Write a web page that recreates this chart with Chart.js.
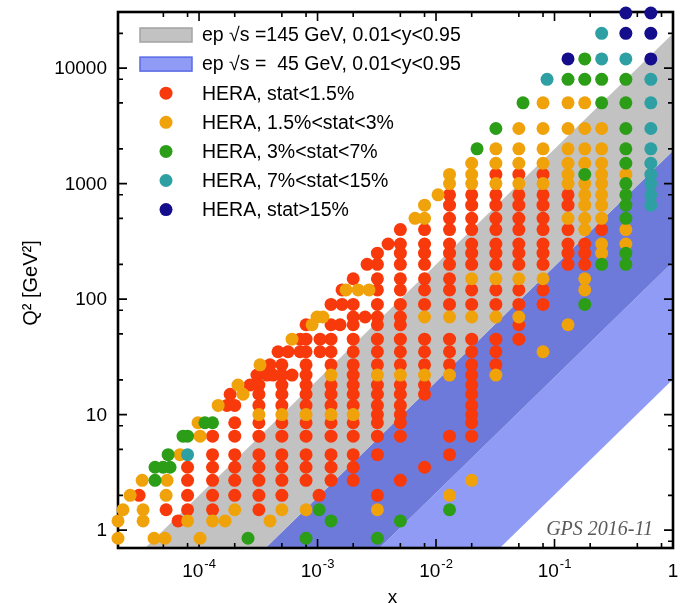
<!DOCTYPE html>
<html>
<head>
<meta charset="utf-8">
<script src="https://cdn.jsdelivr.net/npm/chart.js@4.4.1/dist/chart.umd.min.js"></script>
<style>
  html, body { margin: 0; padding: 0; background: #fff; }
  #wrap { width: 689px; height: 603px; }
</style>
</head>
<body>
<div id="wrap"><canvas id="chart" width="689" height="603"></canvas></div>
<script>
// axis ranges and ticks
const xRange = [2.07e-5, 1];
const yRange = [0.713, 30600];
const xDecades = [1e-4, 1e-3, 1e-2, 1e-1, 1];
const xDecadeLabels = [['10', '-4'], ['10', '-3'], ['10', '-2'], ['10', '-1'], ['1', '']];
const yDecades = [1, 10, 100, 1000, 10000];
const yDecadeLabels = ['1', '10', '100', '1000', '10000'];
const minorSteps = [2, 5, 8];

// band edges: Q2 at the two ends of bandX
const bandX = [1e-6, 10];
const grey145Top = [0.019975, 199750];   // y = 0.95, sqrt(s) = 145 GeV
const blue45Top = [0.0019238, 19238];    // y = 0.95, sqrt(s) = 45 GeV
const grey145Bottom = [0.00021025, 2102.5]; // y = 0.01, sqrt(s) = 145 GeV
const blue45Bottom = [0.00002025, 202.5];   // y = 0.01, sqrt(s) = 45 GeV

// HERA points: [x, [Q2 values]]
const statBelow15 = [
  [8e-5, [3.5, 2.7, 2, 1.5]],
  [1.3e-4, [6.5, 4.5, 3.5, 2.7, 2, 1.5]],
  [2e-4, [12, 8.5, 6.5, 4.5, 3.5, 2.7, 2]],
  [3.2e-4, [18, 15, 12, 8.5, 6.5, 4.5, 3.5, 2.7, 2, 1.5]],
  [5e-4, [27, 22, 18, 15, 12, 8.5, 6.5, 4.5, 3.5, 2.7, 2]],
  [8e-4, [60, 45, 35, 27, 22, 18, 15, 12, 8.5, 6.5, 4.5, 3.5, 2.7]],
  [1.3e-3, [90, 60, 45, 35, 27, 18, 15, 12, 8.5, 6.5, 4.5, 3.5, 2.7]],
  [2e-3, [150, 90, 70, 60, 45, 35, 27, 22, 18, 15, 12, 8.5, 6.5, 4.5, 3.5, 2.7]],
  [3.2e-3, [250, 200, 150, 120, 90, 70, 60, 45, 35, 27, 18, 15, 12, 10, 8.5, 6.5, 4.5, 2]],
  [5e-3, [400, 300, 250, 200, 150, 120, 90, 70, 60, 45, 35, 27, 18, 15, 12, 10, 8.5, 6.5, 2.7]],
  [8e-3, [400, 300, 250, 200, 150, 120, 90, 45, 35, 27, 18, 15, 3.5]],
  [0.013, [800, 650, 500, 400, 300, 250, 200, 150, 120, 90, 45, 35, 27, 6.5, 4.5]],
  [0.02, [800, 650, 500, 400, 300, 250, 200, 120, 90, 45, 35, 27, 22, 18, 15, 12, 10, 8.5, 6.5]],
  [0.032, [1200, 800, 650, 500, 400, 300, 250, 200, 120, 90, 45, 35, 27]],
  [0.05, [1200, 800, 650, 500, 400, 300, 250, 200, 120, 90, 60, 45]],
  [0.08, [1200, 800, 650, 500, 400, 300, 250, 200, 120, 90]],
  [0.13, [800, 650, 400, 300, 250, 200]],
  [0.18, [300, 250, 200]],
  [0.25, [400]],
  // along the high-y edge
  [3.12e-5, [2]], [5.27e-5, [1.5]], [6.65e-5, [1.2]], [1.72e-4, [12]], [1.83e-4, [15]],
  [2.69e-4, [18]], [3.08e-4, [22]], [3.75e-4, [22]], [4.21e-4, [22]], [6.09e-4, [22]],
  [3.97e-4, [27]], [4.64e-4, [35]], [5.64e-4, [35]], [7.12e-4, [35, 45]], [1.05e-3, [35, 45]],
  [1.55e-3, [60]], [2.52e-3, [70]], [1.61e-3, [90, 120]], [2.62e-3, [200]], [3.94e-3, [300]],
  [1.03e-3, [2]]
];

const stat15to3 = [
  [8e-5, [1.2]], [1.3e-4, [1.2]], [2e-4, [1.5]], [3.2e-4, [10]], [5e-4, [10, 1.5]],
  [8e-4, [10, 1.5]], [1.3e-3, [22, 10]], [2e-3, [10]], [3.2e-3, [22, 1.5]], [5e-3, [22]],
  [8e-3, [650, 500, 70, 22]],
  [0.013, [1200, 1000, 70, 22, 2]],
  [0.02, [1500, 1200, 1000, 150, 70, 2.7]],
  [0.032, [2000, 1500, 1000, 150, 70, 22]],
  [0.05, [3000, 2000, 1500, 1000, 150, 70]],
  [0.08, [5000, 3000, 2000, 1500, 1000, 150, 35]],
  [0.13, [5000, 3000, 2000, 1500, 1200, 1000, 500, 60]],
  [0.18, [5000, 3000, 2000, 1500, 1000, 800, 650, 500, 400, 150, 120]],
  [0.25, [3000, 2000, 1500, 1200, 1000, 800, 650, 500, 300, 250]],
  [0.4, [1200, 400, 300]],
  [2.07e-5, [0.85, 1.2]], [2.28e-5, [1.5]], [2.62e-5, [2]], [3.31e-5, [2.7]], [3.37e-5, [1.5, 1.2]],
  [4.17e-5, [0.85]], [5.16e-5, [0.85]], [5.37e-5, [2.7]], [5.27e-5, [2]], [6.91e-5, [4.5]],
  [1.02e-4, [6.5, 0.85]], [9.8e-5, [8.5]], [1.66e-4, [1.2]], [3.97e-4, [1.2]], [1.45e-4, [12]],
  [2.35e-4, [15]], [2.13e-4, [18]], [3.27e-4, [27]], [6.09e-4, [45]], [8.99e-4, [60]],
  [9.91e-4, [70]], [1.11e-3, [70]], [1.74e-3, [120]], [2.2e-3, [120]], [2.72e-3, [120]],
  [6.65e-3, [500]], [1.04e-2, [800]]
];

const stat3to7 = [
  [8e-5, [6.5]], [1.3e-4, [8.5]], [8e-4, [0.85]], [1.3e-3, [1.2]], [3.2e-3, [0.85]],
  [5e-3, [1.2]], [0.013, [1.5]], [0.032, [3000]], [0.13, [8000]],
  [0.18, [12000, 8000, 1200, 90]],
  [0.25, [8000, 5000, 200]],
  [0.4, [8000, 5000, 3000, 2000, 1500, 1000, 800, 650, 500, 250, 200]],
  [4.25e-5, [2.7, 3.5]], [4.97e-5, [3.5]], [5.69e-5, [3.5]], [5.48e-5, [4.5]], [7.33e-5, [6.5]],
  [1.12e-4, [8.5]], [2.59e-4, [0.85]], [1.03e-3, [1.5]], [2.22e-2, [2000]], [5.42e-2, [5000]]
];

const stat7to15 = [
  [8e-5, [4.5]], [8.65e-2, [8000]], [0.25, [20000, 12000]], [0.4, [12000]],
  [0.65, [8000, 5000, 3000, 2000, 1500, 1200, 1000, 800, 650]]
];

const statAbove15 = [
  [0.13, [12000]], [0.4, [30000, 20000]], [0.65, [30000, 20000, 12000]]
];

const COLORS = {
  red: '#f7390b',
  orange: '#f0a20b',
  green: '#2b9d16',
  teal: '#2ea0a3',
  navy: '#140e8c',
  grey: '#c2c2c2',
  overlap: '#6d7ad9',
  light: '#8f9bf5'
};
const FONT = '"Liberation Sans", Arial, Helvetica, sans-serif';

const toPoints = rows => rows.flatMap(([x, qs]) => qs.map(q => ({ x, y: q })));
const bandLine = (q, color, fill) => ({
  type: 'line',
  data: bandX.map((x, i) => ({ x, y: q[i] })),
  borderWidth: 0,
  pointRadius: 0,
  tension: 0,
  backgroundColor: color,
  fill,
  order: 20
});
const pointSet = (label, rows, color, order) => ({
  type: 'scatter',
  label,
  data: toPoints(rows),
  backgroundColor: color,
  borderWidth: 0,
  pointRadius: 6.5,
  pointHoverRadius: 6.5,
  clip: false,
  order
});

function decadeTicks(min, max) {
  const out = [];
  for (let d = Math.floor(Math.log10(min)); d <= Math.ceil(Math.log10(max)); d++) {
    [1, ...minorSteps].forEach(m => {
      const v = m * Math.pow(10, d);
      if (v >= min * 0.999 && v <= max * 1.001) out.push({ v, major: m === 1 });
    });
  }
  return out;
}

// 프레임과 눈금 (밴드 위, 점 아래)
function drawFrame(chart) {
  const { ctx, chartArea: a, scales } = chart;
  ctx.save();
  ctx.strokeStyle = '#000';
  ctx.lineWidth = 1.6;
  decadeTicks(xRange[0], xRange[1]).forEach(t => {
    const px = scales.x.getPixelForValue(t.v);
    const len = t.major ? 9 : 5;
    ctx.beginPath();
    ctx.moveTo(px, a.bottom); ctx.lineTo(px, a.bottom - len);
    ctx.moveTo(px, a.top); ctx.lineTo(px, a.top + len);
    ctx.stroke();
  });
  decadeTicks(yRange[0], yRange[1]).forEach(t => {
    const py = scales.y.getPixelForValue(t.v);
    const len = t.major ? 9 : 5;
    ctx.beginPath();
    ctx.moveTo(a.left, py); ctx.lineTo(a.left + len, py);
    ctx.moveTo(a.right, py); ctx.lineTo(a.right - len, py);
    ctx.stroke();
  });
  ctx.lineWidth = 2.6;
  ctx.strokeRect(a.left, a.top, a.right - a.left, a.bottom - a.top);
  ctx.restore();
}

function drawLabels(chart) {
  const { ctx, chartArea: a, scales } = chart;
  ctx.save();
  ctx.fillStyle = '#000';
  // y tick labels
  ctx.font = '19px ' + FONT;
  ctx.textAlign = 'right';
  ctx.textBaseline = 'middle';
  yDecades.forEach((v, i) => {
    ctx.fillText(yDecadeLabels[i], a.left - 11, scales.y.getPixelForValue(v) + 1);
  });
  // x tick labels with superscripts
  ctx.textAlign = 'left';
  ctx.textBaseline = 'alphabetic';
  xDecades.forEach((v, i) => {
    const [base, sup] = xDecadeLabels[i];
    const px = scales.x.getPixelForValue(v);
    ctx.font = '19px ' + FONT;
    const w1 = ctx.measureText(base).width;
    ctx.font = '13px ' + FONT;
    const w2 = sup ? ctx.measureText(sup).width + 1 : 0;
    const x0 = px - (w1 + w2) / 2;
    ctx.font = '19px ' + FONT;
    ctx.fillText(base, x0, a.bottom + 29);
    if (sup) {
      ctx.font = '13px ' + FONT;
      ctx.fillText(sup, x0 + w1 + 1, a.bottom + 20);
    }
  });
  // axis titles
  ctx.font = '19px ' + FONT;
  ctx.textAlign = 'center';
  ctx.textBaseline = 'middle';
  ctx.fillText('x', (a.left + a.right) / 2 - 3, a.bottom + 50);
  ctx.save();
  ctx.translate(31, 283);
  ctx.rotate(-Math.PI / 2);
  ctx.font = '20px ' + FONT;
  ctx.fillText('Q\u00b2 [GeV\u00b2]', 0, 0);
  ctx.restore();
  // stamp
  ctx.font = 'italic 20px "Liberation Serif", "DejaVu Serif", serif';
  ctx.fillStyle = '#5a5a5a';
  ctx.textAlign = 'right';
  ctx.textBaseline = 'alphabetic';
  ctx.fillText('GPS 2016-11', a.right - 20, a.bottom - 13);
  ctx.restore();
}

const legendItems = [
  { box: COLORS.grey, edge: '#a3a3a3', text: 'ep \u221as =145 GeV, 0.01<y<0.95' },
  { box: COLORS.light, edge: '#5a6ae6', text: 'ep \u221as =  45 GeV, 0.01<y<0.95' },
  { dot: COLORS.red, text: 'HERA, stat<1.5%' },
  { dot: COLORS.orange, text: 'HERA, 1.5%<stat<3%' },
  { dot: COLORS.green, text: 'HERA, 3%<stat<7%' },
  { dot: COLORS.teal, text: 'HERA, 7%<stat<15%' },
  { dot: COLORS.navy, text: 'HERA, stat>15%' }
];

function drawLegend(chart) {
  const { ctx } = chart;
  ctx.save();
  ctx.font = '19.5px ' + FONT;
  ctx.textAlign = 'left';
  ctx.textBaseline = 'middle';
  legendItems.forEach((it, i) => {
    const y = 35 + i * 29.1;
    if (it.box) {
      ctx.fillStyle = it.box;
      ctx.fillRect(140, y - 7, 52, 14);
      ctx.strokeStyle = it.edge;
      ctx.lineWidth = 1.5;
      ctx.strokeRect(140, y - 7, 52, 14);
    } else {
      ctx.fillStyle = it.dot;
      ctx.beginPath();
      ctx.arc(166, y, 6.5, 0, Math.PI * 2);
      ctx.fill();
    }
    ctx.fillStyle = '#000';
    ctx.fillText(it.text, 202, y + 1);
  });
  ctx.restore();
}

const decorations = {
  id: 'decorations',
  afterDatasetDraw(chart, args) {
    if (args.index === 0) drawFrame(chart);
  },
  afterDraw(chart) {
    drawLabels(chart);
    drawLegend(chart);
  }
};

new Chart(document.getElementById('chart').getContext('2d'), {
  type: 'scatter',
  data: {
    datasets: [
      bandLine(grey145Top, COLORS.grey, '+1'),
      bandLine(blue45Top, COLORS.overlap, '+1'),
      bandLine(grey145Bottom, COLORS.light, '+1'),
      bandLine(blue45Bottom, 'transparent', false),
      pointSet('HERA, stat<1.5%', statBelow15, COLORS.red, 5),
      pointSet('HERA, 1.5%<stat<3%', stat15to3, COLORS.orange, 4),
      pointSet('HERA, 3%<stat<7%', stat3to7, COLORS.green, 3),
      pointSet('HERA, 7%<stat<15%', stat7to15, COLORS.teal, 2),
      pointSet('HERA, stat>15%', statAbove15, COLORS.navy, 1)
    ]
  },
  options: {
    responsive: false,
    animation: false,
    devicePixelRatio: 1,
    layout: { padding: { left: 118, right: 16, top: 12, bottom: 55 } },
    plugins: { legend: { display: false }, tooltip: { enabled: false } },
    scales: {
      x: { type: 'logarithmic', min: xRange[0], max: xRange[1], display: false },
      y: { type: 'logarithmic', min: yRange[0], max: yRange[1], display: false }
    }
  },
  plugins: [decorations]
});
</script>
</body>
</html>
